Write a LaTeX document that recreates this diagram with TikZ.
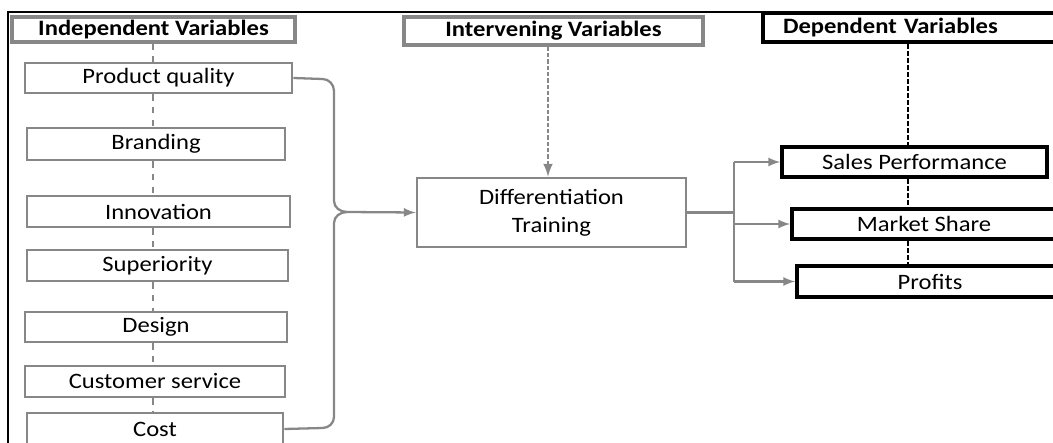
\documentclass[tikz,border=0pt]{standalone}
\usepackage{fontspec}
\setmainfont{Carlito}[FakeStretch=1.12]
\usetikzlibrary{arrows}
\definecolor{boxgray}{RGB}{135,135,135}
\begin{document}
\begin{tikzpicture}[
    varbox/.style={draw=boxgray,line width=1.6pt,inner sep=0pt,font=\fontsize{12.5}{14}\selectfont},
    headbox/.style={varbox,line width=2pt,font=\fontsize{12.5}{14}\selectfont\bfseries},
    outbox/.style={draw=black,line width=2.1pt,inner sep=0pt,font=\fontsize{12.5}{14}\selectfont},
    conn/.style={draw=boxgray,line width=1.3pt},
    ]

    \useasboundingbox (0,0) rectangle (21.06,-8.86);
    \clip (0,0) rectangle (21.06,-8.86);

    %marco
    \draw[line width=1.3pt] (0.16,-8.86)--(0.16,-0.24)--(21.06,-0.24);

    %ejes de las lineas
    \coordinate (ix) at (3.06,0);
    \coordinate (ax) at (10.96,0);
    \coordinate (dx) at (18.16,0);
    \coordinate (jn) at (14.68,0);
    \coordinate (tip) at (6.94,-4.24);

    %Independientes
    \node[headbox,minimum width=5.66cm,minimum height=0.50cm] (indep) at (3.07,-0.59) {Independent Variables};
    \node[varbox,minimum width=5.34cm,minimum height=0.60cm] (pq) at (3.17,-1.56) {Product quality};
    \node[varbox,minimum width=5.16cm,minimum height=0.64cm] (brand) at (3.12,-2.88) {Branding};
    \node[varbox,minimum width=5.26cm,minimum height=0.62cm] (innov) at (3.17,-4.23) {Innovation};
    \node[varbox,minimum width=5.22cm,minimum height=0.62cm] (sup) at (3.15,-5.31) {Superiority};
    \node[varbox,minimum width=5.24cm,minimum height=0.60cm] (design) at (3.12,-6.54) {Design};
    \node[varbox,minimum width=5.20cm,minimum height=0.62cm] (cust) at (3.10,-7.63) {Customer service};
    \node[varbox,minimum width=5.12cm,minimum height=0.64cm] (cost) at (3.10,-8.58) {Cost};

    %Intervinientes
    \node[headbox,minimum width=5.98cm,minimum height=0.56cm] (interv) at (11.07,-0.62) {Intervening Variables};
    \node[varbox,align=center,minimum width=5.38cm,minimum height=1.38cm] (diff) at (11.03,-4.25) {Differentiation\\[2pt]Training};

    %Dependientes
    \node[outbox,font=\fontsize{12.5}{14}\selectfont\bfseries,align=left,text width=5.34cm,inner xsep=0.4cm,minimum height=0.58cm] (dep) at (18.33,-0.55) {Dependent Variables};
    \node[outbox,minimum width=5.30cm,minimum height=0.60cm] (sales) at (18.29,-3.24) {Sales Performance};
    \node[outbox,minimum width=5.28cm,minimum height=0.60cm] (market) at (18.48,-4.48) {Market Share};
    \node[outbox,minimum width=5.32cm,minimum height=0.62cm] (profits) at (18.60,-5.63) {Profits};

    %lineas punteadas
    \foreach \a/\b in {indep/pq,pq/brand,brand/innov,innov/sup,sup/design,design/cust,cust/cost}{
        \draw[boxgray,line width=1.6pt,dash pattern=on 3.6pt off 3.6pt] (\a.south -| ix) -- (\b.north -| ix);
    }
    \draw[boxgray,line width=1.5pt,dash pattern=on 2.4pt off 1.2pt,-latex] (interv.south -| ax) -- (diff.north -| ax);
    \foreach \a/\b in {dep/sales,sales/market,market/profits}{
        \draw[line width=1.5pt,dash pattern=on 2.8pt off 1.2pt] (\a.south -| dx) -- (\b.north -| dx);
    }

    %llave
    \draw[conn] (pq.east) -- (6.45,-1.58) to[out=0,in=90] (6.68,-1.82) -- (6.68,-4.02) to[out=-90,in=180] (tip);
    \draw[conn] (cost.east) -- (6.45,-8.56) to[out=0,in=-90] (6.68,-8.34) -- (6.68,-4.46) to[out=90,in=180] (tip);
    \draw[conn,-latex] (tip) -- (diff.west);

    %salidas
    \draw[conn] (diff.east) -- (diff.east -| jn);
    \draw[conn] (sales.west -| jn) -- (profits.west -| jn);
    \foreach \n in {sales,market,profits}{
        \draw[conn,-latex] (\n.west -| jn) -- (\n.west);
    }

\end{tikzpicture}
\end{document}
